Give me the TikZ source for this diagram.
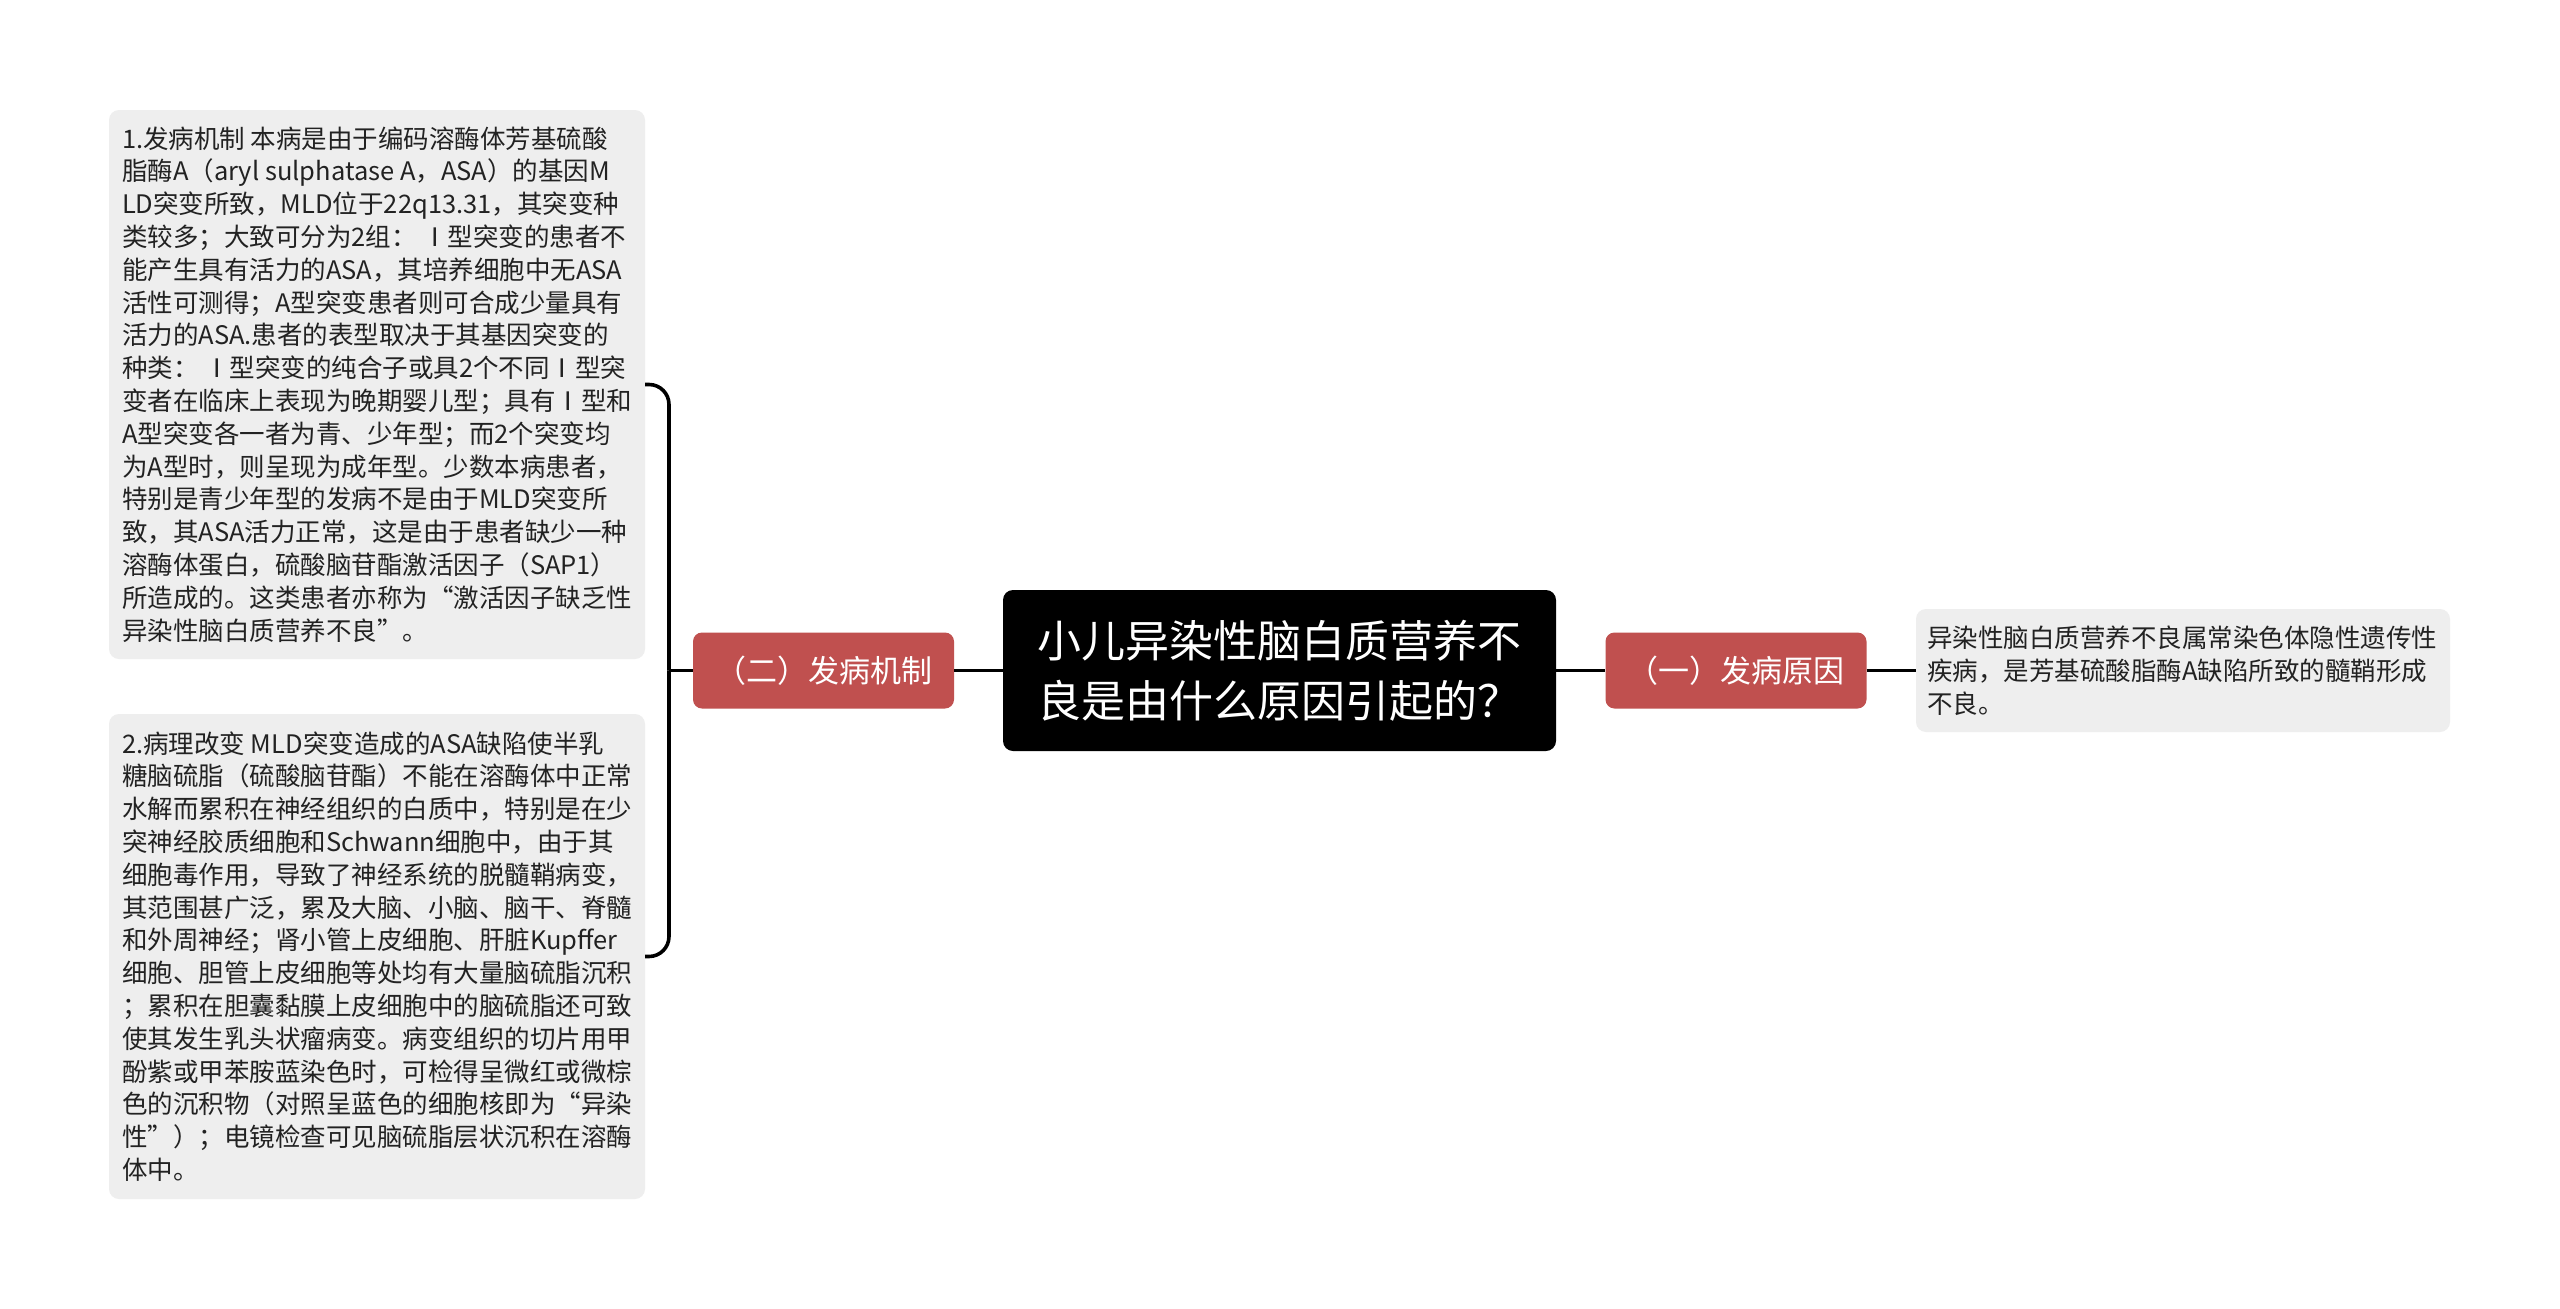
\documentclass[tikz,border=0pt]{standalone}
\usepackage{fontspec}
\setmainfont{Noto Sans CJK SC}
\definecolor{boxgray}{HTML}{EEEEEE}
\definecolor{branchred}{HTML}{C0504F}
\definecolor{txtdark}{HTML}{222222}
\begin{document}
\begin{tikzpicture}[x=1pt,y=-1pt,
  conn/.style={line width=3.6pt, draw=black},
  leafbox/.style={fill=boxgray, draw=none, rounded corners=10pt, inner sep=0pt},
  leaftext/.style={anchor=west, align=left, inner sep=0pt, text=txtdark,
    font=\fontsize{25.5}{32.8}\selectfont},
  branch/.style={fill=branchred, draw=none, rounded corners=9pt, text=white,
    minimum width=261pt, minimum height=76pt, inner sep=0pt,
    font=\fontsize{31}{36}\selectfont},
  rootnode/.style={fill=black, draw=none, rounded corners=10pt, text=white,
    align=left, inner xsep=34.5pt, inner ysep=0pt, minimum height=161pt,
    font=\fontsize{44}{60}\selectfont}
]
\useasboundingbox[fill=white] (0,0) rectangle (2560,1309);

% root
\node[rootnode] (root) at (1279.5,670.5) {小儿异染性脑白质营养不\\良是由什么原因引起的？};

% branches
\node[branch] (b2) at (823.5,670.5) {（二）发病机制};
\node[branch] (b1) at (1736,670.5) {（一）发病原因};

% right leaf
\node[leafbox, minimum width=534pt, minimum height=123pt] (r1) at (2183,670.5) {};
\node[leaftext, font=\fontsize{25.5}{33}\selectfont] (r1t) at ([xshift=11pt]r1.west) {异染性脑白质营养不良属常染色体隐性遗传性\\
疾病，是芳基硫酸脂酶A缺陷所致的髓鞘形成\\
不良。};

% left leaves
\node[leafbox, minimum width=536pt, minimum height=549pt] (l1) at (377,384.5) {};
\node[leaftext] (l1t) at ([xshift=13pt]l1.west) {1.发病机制 本病是由于编码溶酶体芳基硫酸\\
脂酶A（aryl sulphatase A，ASA）的基因M\\
LD突变所致，MLD位于22q13.31，其突变种\\
类较多；大致可分为2组： Ⅰ型突变的患者不\\
能产生具有活力的ASA，其培养细胞中无ASA\\
活性可测得；A型突变患者则可合成少量具有\\
活力的ASA.患者的表型取决于其基因突变的\\
种类： Ⅰ型突变的纯合子或具2个不同Ⅰ型突\\
变者在临床上表现为晚期婴儿型；具有Ⅰ型和\\
A型突变各一者为青、少年型；而2个突变均\\
为A型时，则呈现为成年型。少数本病患者，\\
特别是青少年型的发病不是由于MLD突变所\\
致，其ASA活力正常，这是由于患者缺少一种\\
溶酶体蛋白，硫酸脑苷酯激活因子（SAP1）\\
所造成的。这类患者亦称为“激活因子缺乏性\\
异染性脑白质营养不良”。};

\node[leafbox, minimum width=536pt, minimum height=485pt] (l2) at (377,956.5) {};
\node[leaftext] (l2t) at ([xshift=13pt]l2.west) {2.病理改变 MLD突变造成的ASA缺陷使半乳\\
糖脑硫脂（硫酸脑苷酯）不能在溶酶体中正常\\
水解而累积在神经组织的白质中，特别是在少\\
突神经胶质细胞和Schwann细胞中，由于其\\
细胞毒作用，导致了神经系统的脱髓鞘病变，\\
其范围甚广泛，累及大脑、小脑、脑干、脊髓\\
和外周神经；肾小管上皮细胞、肝脏Kupffer\\
细胞、胆管上皮细胞等处均有大量脑硫脂沉积\\
；累积在胆囊黏膜上皮细胞中的脑硫脂还可致\\
使其发生乳头状瘤病变。病变组织的切片用甲\\
酚紫或甲苯胺蓝染色时，可检得呈微红或微棕\\
色的沉积物（对照呈蓝色的细胞核即为“异染\\
性”）；电镜检查可见脑硫脂层状沉积在溶酶\\
体中。};

% connectors
\coordinate (j) at (669,670.5);
\draw[conn] (root.west) -- (b2.east);
\draw[conn] (root.east) -- (b1.west);
\draw[conn] (b1.east) -- (r1.west);
\draw[conn] (j) -- (b2.west);
\draw[conn, rounded corners=20pt] (l1.east) -| (j);
\draw[conn, rounded corners=20pt] (l2.east) -| (j);
\end{tikzpicture}
\end{document}
